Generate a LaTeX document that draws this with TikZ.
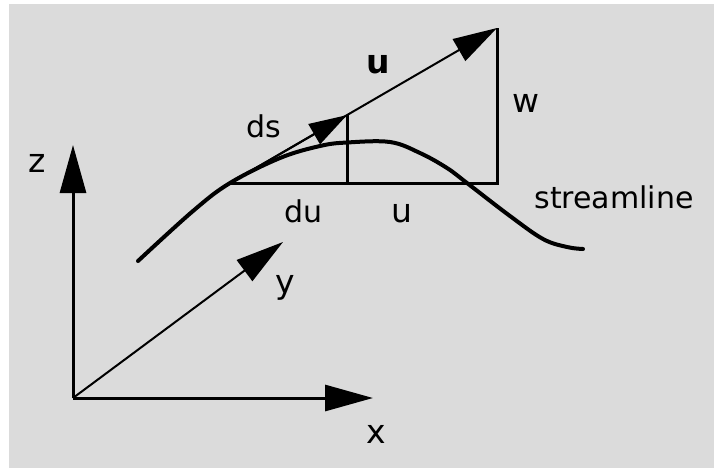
\documentclass[tikz,border=0pt]{standalone}
\usepackage{fontspec}
\setmainfont{DejaVu Sans}
\usetikzlibrary{arrows.meta}
\definecolor{bggray}{RGB}{219,219,219}
\tikzset{
  axisline/.style={line width=1.5pt, -{Triangle[length=24pt,width=13pt]}},
  vecline/.style={line width=1pt, -{Triangle[length=22pt,width=12.5pt]}},
  dsline/.style={line width=1pt, -{Triangle[length=19pt,width=11.5pt]}},
  legline/.style={line width=1.5pt},
  streamcurve/.style={line width=2pt, line cap=round},
  biglabel/.style={anchor=base west, inner sep=0pt, font=\fontsize{16.5}{18}\selectfont},
  smalllabel/.style={anchor=base west, inner sep=0pt, font=\fontsize{15}{17}\selectfont},
}
\begin{document}
\begin{tikzpicture}[x=0.5pt,y=-0.5pt]
  \useasboundingbox (0,0) rectangle (714,468);
  \fill[white] (0,0) rectangle (714,468);
  \fill[bggray] (9,4) rectangle (714,468);

  % coordinates
  \coordinate (O) at (73,398);
  \coordinate (Ztip) at (73,145);
  \coordinate (Xtip) at (373,398);
  \coordinate (Ytip) at (283,242);
  \coordinate (A) at (230,183);
  \coordinate (T) at (497,28);
  \coordinate (B) at (497,183);
  \coordinate (D) at (347,115.1);
  \coordinate (Dfoot) at (347,183);

  % axes
  \draw[axisline] (O) -- (Ztip);
  \draw[axisline] (O) -- (Xtip);
  \draw[axisline, line width=1pt] (O) -- (Ytip);

  % streamline
  \draw[streamcurve] plot[smooth, tension=0.6] coordinates {
    (138,261) (193,211) (230,183) (280,158) (320,146) (347,142.5)
    (390,142) (420,153) (447,168) (467,183) (510,216) (543,239) (567,247) (583,249)};

  % triangle
  \draw[legline] (A) -- (B) -- (T);
  \draw[legline] (D) -- (Dfoot);
  \draw[vecline] (A) -- (T);
  \draw[dsline] (A) -- (D);

  % labels
  \node[biglabel] (lz) at (28,172) {z};
  \node[biglabel] (ly) at (275,293) {y};
  \node[biglabel] (lx) at (366,443) {x};
  \node[biglabel, font=\fontsize{16.5}{18}\selectfont\bfseries] (lub) at (366,73) {u};
  \node[biglabel] (lw) at (512,112) {w};
  \node[biglabel] (lu) at (391,222) {u};
  \node[smalllabel] (lds) at (246,137) {ds};
  \node[smalllabel] (ldu) at (284,222) {du};
  \node[smalllabel] (lsl) at (534,208) {streamline};
\end{tikzpicture}
\end{document}
